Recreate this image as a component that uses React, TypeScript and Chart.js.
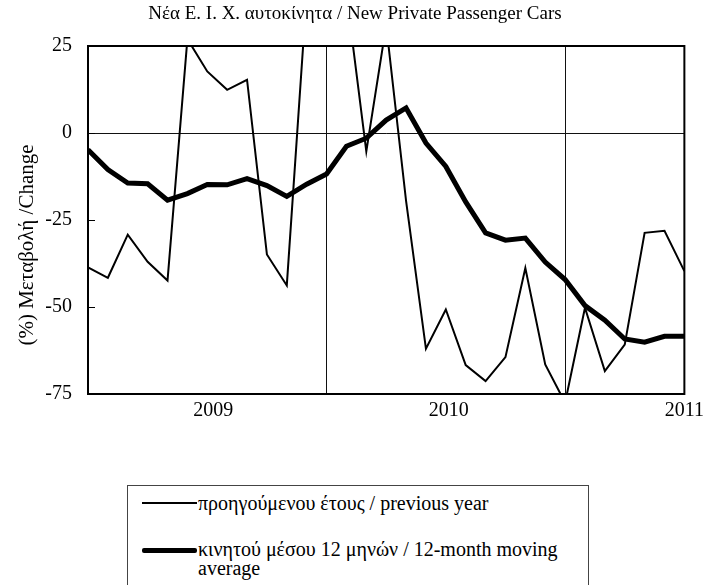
import React, { useEffect, useRef } from "react";
import { Chart, registerables } from "chart.js";

Chart.register(...registerables);

// Month index 0 .. 30 (monthly observations)
const monthIndex: number[] = Array.from({ length: 31 }, (_, i) => i);

// % change over previous year
const prevYear: number[] = [
  -38.6, -41.6, -29.2, -37.0, -42.4, 27, 17.7, 12.4, 15.3, -34.9, -43.8, 40,
  55, 40, -5.3, 31, -19.5, -62.0, -50.7, -66.7, -71.3, -64.4, -38.8, -66.5,
  -77.5, -50.2, -68.4, -60.8, -28.7, -28.1, -39.7,
];

// 12-month moving average
const movingAvg: number[] = [
  -4.8, -10.5, -14.4, -14.6, -19.3, -17.4, -14.8, -14.9, -13.1, -15.1, -18.2,
  -14.7, -11.8, -3.8, -1.5, 3.7, 7.2, -2.9, -9.6, -19.8, -28.7, -30.8, -30.2,
  -37.1, -42.1, -49.6, -53.8, -59.2, -60.1, -58.4, -58.4,
];

const xTickPositions: number[] = [6.3, 18.15, 30];
const xTickLabels: string[] = ["2009", "2010", "2011"];
const xGridPositions: number[] = [12, 24];

const yTicks: number[] = [-75, -50, -25, 0, 25];

const titleText = "Νέα Ε. Ι. Χ. αυτοκίνητα / New Private Passenger Cars";
const yTitleText = "(%) Μεταβολή /Change";
const legendLabels: string[] = [
  "προηγούμενου έτους / previous year",
  "κινητού μέσου 12 μηνών / 12-month moving",
  "average",
];

const FONT = "'Liberation Serif', 'Times New Roman', serif";

const framePlugin = {
  id: "frame",
  afterDatasetsDraw(chart: any) {
    const { ctx, chartArea } = chart;
    const ys = chart.scales.y;
    ctx.save();
    // inward tick marks on the value axis
    ctx.strokeStyle = "#000";
    ctx.lineWidth = 1;
    yTicks.forEach((v) => {
      const py = Math.round(ys.getPixelForValue(v)) + 0.5;
      ctx.beginPath();
      ctx.moveTo(chartArea.left, py);
      ctx.lineTo(chartArea.left + 7, py);
      ctx.stroke();
    });
    ctx.lineWidth = 2;
    ctx.strokeRect(
      chartArea.left,
      chartArea.top,
      chartArea.right - chartArea.left,
      chartArea.bottom - chartArea.top
    );
    ctx.fillStyle = "#000";
    ctx.textAlign = "center";
    ctx.textBaseline = "middle";
    // chart title
    ctx.font = `19px ${FONT}`;
    ctx.fillText(titleText, 355, 14);
    // rotated value-axis title
    ctx.font = `21px ${FONT}`;
    ctx.translate(27, 245);
    ctx.rotate(-Math.PI / 2);
    ctx.fillText(yTitleText, 0, 0);
    ctx.restore();
  },
};

export default function App() {
  const ref = useRef<HTMLCanvasElement | null>(null);

  useEffect(() => {
    if (!ref.current) return;
    const chart = new Chart(ref.current, {
      type: "line",
      data: {
        datasets: [
          {
            label: legendLabels[0],
            data: monthIndex.map((x, i) => ({ x, y: prevYear[i] })),
            borderColor: "#000",
            borderWidth: 2,
            pointRadius: 0,
            tension: 0,
            clip: 0 as any,
          },
          {
            label: legendLabels[1] + " " + legendLabels[2],
            data: monthIndex.map((x, i) => ({ x, y: movingAvg[i] })),
            borderColor: "#000",
            borderWidth: 5,
            pointRadius: 0,
            tension: 0,
            clip: 0 as any,
          },
        ],
      },
      options: {
        responsive: false,
        animation: false,
        layout: { padding: { left: 0, right: 22, top: 46, bottom: 151 } },
        plugins: {
          legend: { display: false },
          tooltip: { enabled: false },
          title: { display: false },
        },
        scales: {
          x: {
            type: "linear",
            min: 0,
            max: 30,
            afterBuildTicks: (scale: any) => {
              const vals = [...xTickPositions, ...xGridPositions].sort(
                (a, b) => a - b
              );
              scale.ticks = vals.map((v) => ({ value: v }));
            },
            afterFit: (scale: any) => {
              scale.height = 40;
            },
            ticks: {
              color: "#000",
              font: { family: FONT, size: 20 },
              padding: 5,
              maxRotation: 0,
              autoSkip: false,
              callback: (value: any) => {
                const idx = xTickPositions.indexOf(Number(value));
                return idx >= 0 ? xTickLabels[idx] : "";
              },
            },
            grid: {
              drawTicks: false,
              lineWidth: 1,
              color: (ctx: any) =>
                ctx.tick && xGridPositions.includes(ctx.tick.value)
                  ? "#111"
                  : "rgba(0,0,0,0)",
            },
            border: { display: false },
          },
          y: {
            type: "linear",
            min: -75,
            max: 25,
            afterBuildTicks: (scale: any) => {
              scale.ticks = yTicks.map((v) => ({ value: v }));
            },
            afterFit: (scale: any) => {
              scale.width = 88;
            },
            ticks: {
              color: "#000",
              font: { family: FONT, size: 20 },
              padding: 16,
            },
            grid: {
              drawTicks: false,
              lineWidth: 1,
              color: (ctx: any) =>
                ctx.tick && ctx.tick.value === 0 ? "#111" : "rgba(0,0,0,0)",
            },
            border: { display: false },
          },
        },
      },
      plugins: [framePlugin],
    });
    return () => chart.destroy();
  }, []);

  return (
    <div style={{ position: "fixed", left: 0, top: 0, width: 709, height: 585, background: "#fff", overflow: "hidden" }}>
      <canvas ref={ref} width={709} height={585} style={{ position: "absolute", left: 0, top: 0 }} />
      <div
        style={{
          position: "absolute",
          left: 127,
          top: 485,
          width: 460,
          height: 120,
          border: "1px solid #444",
          background: "#fff",
          fontFamily: FONT,
          fontSize: 20,
          color: "#000",
        }}
      >
        <div style={{ position: "absolute", left: 14, top: 16, width: 55, height: 2, background: "#000" }} />
        <div style={{ position: "absolute", left: 70, top: 5, lineHeight: "24px", whiteSpace: "nowrap" }}>
          {legendLabels[0]}
        </div>
        <div style={{ position: "absolute", left: 14, top: 62, width: 55, height: 5, background: "#000", borderRadius: 2 }} />
        <div style={{ position: "absolute", left: 70, top: 54, lineHeight: "19px", whiteSpace: "nowrap" }}>
          {legendLabels[1]}
          <br />
          {legendLabels[2]}
        </div>
      </div>
    </div>
  );
}
